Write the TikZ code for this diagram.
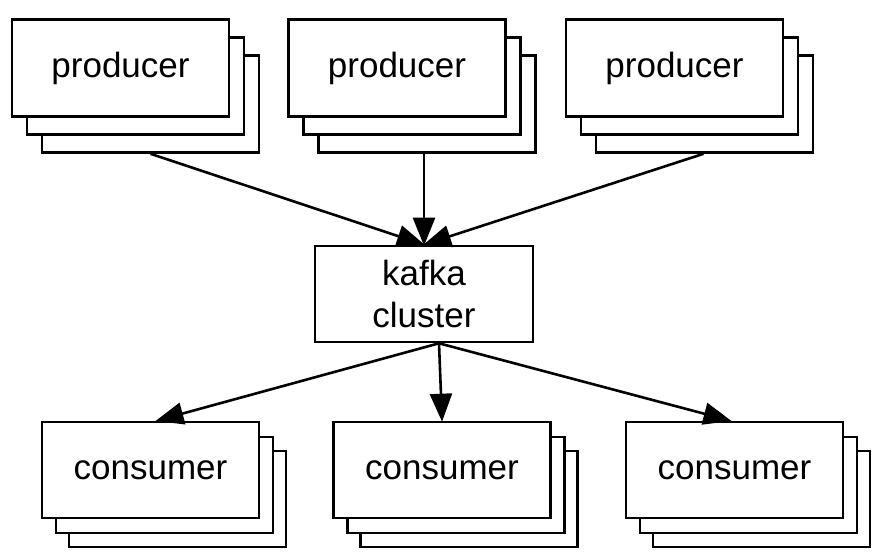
\documentclass[tikz,border=0pt]{standalone}
\usepackage{fontspec}
\setmainfont{Liberation Sans}
\usetikzlibrary{arrows.meta,positioning}
\begin{document}
\begin{tikzpicture}[x=1pt,y=-1pt,
  box/.style={draw=black,fill=white,line width=2.6pt,rectangle,inner sep=0pt,
    minimum width=217pt,minimum height=97pt,
    font=\fontsize{35}{42}\selectfont},
  kbox/.style={box,minimum width=218pt,minimum height=96pt,align=center},
  arr/.style={line width=2.6pt,-{Triangle[length=28pt,width=22pt]},shorten >=-1pt}
]
\useasboundingbox (0,0) rectangle (889,556);
% producers (back boxes first)
\foreach \n/\x in {p1/120.5,p2/397,p3/674.5}{
  \node[box] (\n c) at (\x+30,104) {};
  \node[box] (\n b) at (\x+15,86) {};
}
\node[box] (p1) at (120.5,68) {producer};
\node[box] (p2) at (397,68) {producer};
\node[box] (p3) at (674.5,68) {producer};
% kafka
\node[kbox] (k) at (424,294) {kafka\\cluster};
% consumers
\foreach \n/\x in {c1/150.5,c2/442,c3/734.5}{
  \node[box,minimum height=96pt] (\n c) at (\x+27,499) {};
  \node[box,minimum height=96pt] (\n b) at (\x+14,485) {};
}
\node[box,minimum height=96pt] (c1) at (150.5,470) {consumer};
\node[box,minimum height=96pt] (c2) at (442,470) {consumer};
\node[box,minimum height=96pt] (c3) at (734.5,470) {consumer};
\coordinate (kout) at ([xshift=15pt]k.south);
% arrows
\draw[arr] (p1c.south) -- (k.north);
\draw[arr] ([xshift=-3pt]p2c.south) -- (k.north);
\draw[arr] ([xshift=-1pt]p3c.south) -- (k.north);
\draw[arr] (kout) -- ([xshift=6pt]c1.north);
\draw[arr] (kout) -- (c2.north);
\draw[arr] (kout) -- ([xshift=-4pt]c3.north);
\end{tikzpicture}
\end{document}
